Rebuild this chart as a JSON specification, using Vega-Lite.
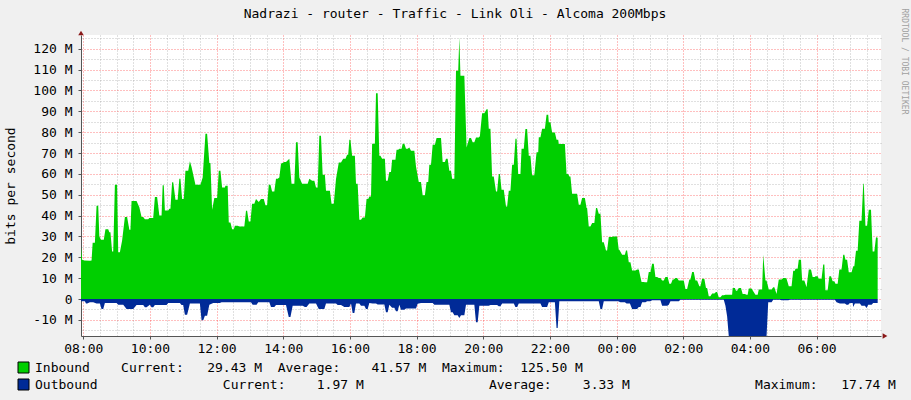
{
"$schema": "https://vega.github.io/schema/vega-lite/v6.json",
"width": 800, "height": 301,
"autosize": {"type": "none"},
"padding": {"left": 81, "top": 35, "right": 30, "bottom": 64},
"background": "#F0F0F0",
"config": {"view": {"fill": "#FFFFFF", "stroke": null}, "font": "DejaVu Sans Mono"},
"title": {"text": "Nadrazi - router - Traffic - Link Oli - Alcoma 200Mbps", "font": "DejaVu Sans Mono", "fontSize": 13, "fontWeight": "normal", "color": "#000000", "anchor": "middle", "frame": "group", "dx": -26, "offset": 14, "dy": 27},
"datasets": {
"inb": [{"m":-4,"v":25},{"m":-2,"v":18.8},{"m":2,"v":18.5},{"m":12,"v":18.3},{"m":15,"v":18.5},{"m":17,"v":27},{"m":21,"v":27},{"m":24,"v":44.7},{"m":27,"v":44.7},{"m":29,"v":30},{"m":32,"v":28.4},{"m":37,"v":28.4},{"m":40,"v":33.5},{"m":45,"v":33.5},{"m":47,"v":32},{"m":49,"v":32},{"m":52,"v":22.8},{"m":54,"v":22.8},{"m":57,"v":54.8},{"m":61,"v":54.8},{"m":63,"v":22.4},{"m":66,"v":22.4},{"m":70,"v":28},{"m":75,"v":39.3},{"m":79,"v":39.3},{"m":83,"v":33.2},{"m":85,"v":33.2},{"m":87,"v":47},{"m":96,"v":47},{"m":101,"v":44},{"m":105,"v":39.3},{"m":108,"v":39.3},{"m":111,"v":38.3},{"m":117,"v":38.3},{"m":119,"v":38.8},{"m":126,"v":38.8},{"m":129,"v":48.9},{"m":133,"v":48.9},{"m":137,"v":40},{"m":141,"v":40},{"m":143,"v":54.6},{"m":145,"v":54.6},{"m":147,"v":42.5},{"m":153,"v":42.5},{"m":155,"v":43.3},{"m":157,"v":43.3},{"m":160,"v":56},{"m":162,"v":56},{"m":166,"v":47.6},{"m":170,"v":47.6},{"m":173,"v":57.7},{"m":175,"v":57.7},{"m":178,"v":48},{"m":181,"v":48},{"m":184,"v":61.5},{"m":189,"v":61.5},{"m":192,"v":66},{"m":195,"v":63.3},{"m":202,"v":54.8},{"m":211,"v":54.8},{"m":215,"v":58.3},{"m":220,"v":79.2},{"m":223,"v":79.2},{"m":227,"v":65.2},{"m":229,"v":65.2},{"m":232,"v":42.8},{"m":236,"v":48.4},{"m":241,"v":48.4},{"m":244,"v":61.5},{"m":247,"v":61.5},{"m":250,"v":53.5},{"m":255,"v":53.5},{"m":256,"v":54.3},{"m":260,"v":54.3},{"m":262,"v":36.7},{"m":265,"v":36.7},{"m":268,"v":33.5},{"m":271,"v":33.5},{"m":273,"v":35.1},{"m":278,"v":35.1},{"m":281,"v":34.8},{"m":290,"v":34.8},{"m":293,"v":42.3},{"m":295,"v":42.3},{"m":298,"v":37.2},{"m":301,"v":37.2},{"m":304,"v":45.7},{"m":308,"v":45.7},{"m":311,"v":48},{"m":316,"v":46.5},{"m":320,"v":48},{"m":325,"v":48},{"m":328,"v":44.9},{"m":331,"v":44.9},{"m":334,"v":54.8},{"m":337,"v":54.8},{"m":340,"v":51.6},{"m":344,"v":51.6},{"m":347,"v":57.7},{"m":350,"v":57.7},{"m":353,"v":58.3},{"m":356,"v":64.9},{"m":362,"v":65.7},{"m":365,"v":65.7},{"m":371,"v":67.3},{"m":375,"v":55.3},{"m":380,"v":55.3},{"m":383,"v":75.2},{"m":386,"v":75.2},{"m":389,"v":58.3},{"m":394,"v":55.3},{"m":404,"v":55.3},{"m":407,"v":57.7},{"m":412,"v":56.7},{"m":416,"v":56.7},{"m":419,"v":53.5},{"m":422,"v":53.5},{"m":425,"v":78.3},{"m":428,"v":78.3},{"m":431,"v":59.6},{"m":435,"v":59.6},{"m":437,"v":51.9},{"m":444,"v":51.9},{"m":447,"v":45.7},{"m":451,"v":45.7},{"m":455,"v":57.5},{"m":460,"v":65.5},{"m":464,"v":65.5},{"m":468,"v":67.3},{"m":472,"v":67.3},{"m":475,"v":69.2},{"m":477,"v":69.2},{"m":479,"v":76.4},{"m":481,"v":76.4},{"m":484,"v":68.7},{"m":489,"v":68.7},{"m":491,"v":55.3},{"m":494,"v":55.3},{"m":497,"v":38},{"m":500,"v":38},{"m":503,"v":39.1},{"m":507,"v":39.1},{"m":510,"v":48},{"m":513,"v":48},{"m":515,"v":49.2},{"m":518,"v":49.2},{"m":520,"v":74.4},{"m":525,"v":74.4},{"m":527,"v":98.7},{"m":530,"v":98.7},{"m":533,"v":68.7},{"m":535,"v":68.7},{"m":538,"v":67.3},{"m":543,"v":67.3},{"m":545,"v":56.7},{"m":548,"v":56.7},{"m":551,"v":60.9},{"m":554,"v":60.9},{"m":556,"v":66.8},{"m":562,"v":66.8},{"m":564,"v":71.6},{"m":567,"v":71.6},{"m":569,"v":72},{"m":573,"v":72},{"m":575,"v":74.4},{"m":578,"v":74.4},{"m":581,"v":72},{"m":584,"v":72},{"m":587,"v":72.7},{"m":590,"v":71.1},{"m":596,"v":71.1},{"m":599,"v":63.6},{"m":604,"v":56.1},{"m":608,"v":56.1},{"m":611,"v":49.7},{"m":615,"v":49.7},{"m":618,"v":56.1},{"m":621,"v":56.1},{"m":623,"v":64.4},{"m":626,"v":64.4},{"m":629,"v":74},{"m":633,"v":74},{"m":636,"v":77.2},{"m":644,"v":77.2},{"m":647,"v":65.7},{"m":651,"v":65.7},{"m":653,"v":67.3},{"m":656,"v":67.3},{"m":659,"v":61.5},{"m":662,"v":61.5},{"m":664,"v":57.7},{"m":668,"v":57.7},{"m":671,"v":109.4},{"m":675,"v":109.4},{"m":677,"v":125.5},{"m":679,"v":107},{"m":686,"v":107},{"m":690,"v":72.7},{"m":695,"v":77.2},{"m":698,"v":77.2},{"m":701,"v":75.2},{"m":704,"v":75.2},{"m":707,"v":77.5},{"m":712,"v":77.5},{"m":714,"v":78},{"m":718,"v":89.1},{"m":722,"v":89.1},{"m":726,"v":91},{"m":728,"v":91},{"m":730,"v":81.6},{"m":733,"v":81.6},{"m":736,"v":58.8},{"m":739,"v":58.8},{"m":743,"v":51.6},{"m":745,"v":51.6},{"m":748,"v":60},{"m":750,"v":60},{"m":753,"v":52.4},{"m":757,"v":52.4},{"m":761,"v":44.4},{"m":763,"v":44.4},{"m":766,"v":51.9},{"m":769,"v":51.9},{"m":772,"v":64.4},{"m":775,"v":64.4},{"m":778,"v":76.8},{"m":780,"v":76.8},{"m":783,"v":60},{"m":787,"v":60},{"m":789,"v":72},{"m":793,"v":72},{"m":796,"v":81.5},{"m":799,"v":81.5},{"m":802,"v":68.7},{"m":805,"v":68.7},{"m":808,"v":59.3},{"m":812,"v":59.3},{"m":816,"v":70.4},{"m":819,"v":70.4},{"m":820,"v":77.6},{"m":823,"v":77.6},{"m":826,"v":81.6},{"m":831,"v":81.6},{"m":834,"v":88.3},{"m":837,"v":88.3},{"m":838,"v":84.8},{"m":841,"v":84.8},{"m":844,"v":79.9},{"m":849,"v":79.9},{"m":852,"v":76.4},{"m":855,"v":76.4},{"m":856,"v":74.3},{"m":867,"v":74.3},{"m":870,"v":60},{"m":873,"v":60},{"m":875,"v":58.8},{"m":877,"v":58.8},{"m":880,"v":50.5},{"m":889,"v":50.5},{"m":892,"v":45.2},{"m":895,"v":45.2},{"m":898,"v":48.4},{"m":903,"v":48.4},{"m":906,"v":43.6},{"m":907,"v":43.6},{"m":910,"v":34.8},{"m":913,"v":34.8},{"m":916,"v":36.4},{"m":920,"v":36.4},{"m":923,"v":43.6},{"m":925,"v":43.6},{"m":928,"v":40.9},{"m":931,"v":40.9},{"m":934,"v":27.2},{"m":937,"v":27.2},{"m":941,"v":23.3},{"m":943,"v":23.3},{"m":946,"v":29.7},{"m":951,"v":29.7},{"m":954,"v":30},{"m":961,"v":30},{"m":964,"v":23.6},{"m":965,"v":23.6},{"m":970,"v":21.2},{"m":975,"v":21.2},{"m":977,"v":23.3},{"m":979,"v":23.3},{"m":982,"v":17.6},{"m":985,"v":17.6},{"m":988,"v":13.7},{"m":994,"v":13.7},{"m":997,"v":14.1},{"m":1000,"v":14.1},{"m":1005,"v":8.1},{"m":1009,"v":8.1},{"m":1011,"v":8},{"m":1015,"v":8},{"m":1018,"v":12.9},{"m":1021,"v":12.9},{"m":1024,"v":16.9},{"m":1027,"v":16.9},{"m":1030,"v":10.5},{"m":1033,"v":10.5},{"m":1036,"v":10.1},{"m":1039,"v":10.1},{"m":1042,"v":8.9},{"m":1045,"v":8.9},{"m":1048,"v":10.5},{"m":1052,"v":10.5},{"m":1055,"v":7.3},{"m":1058,"v":7.3},{"m":1061,"v":9.3},{"m":1063,"v":9.3},{"m":1066,"v":10.1},{"m":1069,"v":10.1},{"m":1072,"v":8.9},{"m":1081,"v":8.9},{"m":1084,"v":4.8},{"m":1087,"v":4.8},{"m":1091,"v":9.3},{"m":1093,"v":9.3},{"m":1096,"v":12.9},{"m":1099,"v":12.9},{"m":1102,"v":8.9},{"m":1105,"v":8.9},{"m":1109,"v":6.1},{"m":1111,"v":6.1},{"m":1114,"v":9.7},{"m":1118,"v":9.7},{"m":1121,"v":5.3},{"m":1123,"v":5.3},{"m":1126,"v":1.3},{"m":1129,"v":1.3},{"m":1132,"v":2.6},{"m":1136,"v":2.6},{"m":1139,"v":3.4},{"m":1141,"v":3.4},{"m":1144,"v":0.8},{"m":1147,"v":0.8},{"m":1150,"v":1.8},{"m":1153,"v":1.8},{"m":1156,"v":2.1},{"m":1168,"v":2.1},{"m":1169,"v":5.3},{"m":1173,"v":5.3},{"m":1175,"v":4},{"m":1177,"v":4},{"m":1180,"v":5.3},{"m":1184,"v":5.3},{"m":1187,"v":2.4},{"m":1191,"v":2.4},{"m":1194,"v":2.1},{"m":1196,"v":2.1},{"m":1198,"v":5},{"m":1203,"v":5},{"m":1206,"v":3.7},{"m":1210,"v":2.1},{"m":1214,"v":2.1},{"m":1216,"v":4.5},{"m":1222,"v":4.5},{"m":1224,"v":21.2},{"m":1228,"v":8.9},{"m":1230,"v":8.9},{"m":1234,"v":4.5},{"m":1239,"v":4.5},{"m":1242,"v":5.6},{"m":1244,"v":5.6},{"m":1248,"v":2.4},{"m":1252,"v":9.3},{"m":1257,"v":9.3},{"m":1260,"v":10.1},{"m":1264,"v":10.1},{"m":1266,"v":9.7},{"m":1270,"v":6.1},{"m":1275,"v":6.1},{"m":1278,"v":13.6},{"m":1281,"v":13.6},{"m":1282,"v":14.5},{"m":1286,"v":14.5},{"m":1288,"v":18.8},{"m":1292,"v":18.8},{"m":1294,"v":8.9},{"m":1298,"v":8.9},{"m":1302,"v":5.6},{"m":1306,"v":14.1},{"m":1310,"v":14.1},{"m":1313,"v":10.5},{"m":1317,"v":10.5},{"m":1318,"v":10.9},{"m":1322,"v":10.9},{"m":1324,"v":9.7},{"m":1329,"v":9.7},{"m":1332,"v":16.5},{"m":1334,"v":16.5},{"m":1336,"v":4.2},{"m":1340,"v":4.2},{"m":1343,"v":10.9},{"m":1346,"v":10.9},{"m":1349,"v":8.5},{"m":1352,"v":8.5},{"m":1354,"v":7.3},{"m":1358,"v":7.3},{"m":1361,"v":14.1},{"m":1365,"v":14.1},{"m":1368,"v":21.2},{"m":1370,"v":21.2},{"m":1372,"v":18.8},{"m":1375,"v":18.8},{"m":1378,"v":12.8},{"m":1383,"v":12.8},{"m":1386,"v":15.7},{"m":1388,"v":15.7},{"m":1391,"v":23.2},{"m":1394,"v":23.2},{"m":1397,"v":37.5},{"m":1401,"v":37.5},{"m":1404,"v":55.3},{"m":1405,"v":55.3},{"m":1408,"v":35.1},{"m":1411,"v":35.1},{"m":1414,"v":42.8},{"m":1418,"v":42.8},{"m":1421,"v":22.8},{"m":1424,"v":22.8},{"m":1427,"v":29.6},{"m":1430,"v":29.43}],
"outb": [{"m":-4,"v":-1.1},{"m":3,"v":-1.1},{"m":5,"v":-2.2},{"m":7,"v":-2.2},{"m":12,"v":-1.6},{"m":18,"v":-1.6},{"m":24,"v":-2.2},{"m":30,"v":-2.2},{"m":33,"v":-4.8},{"m":36,"v":-4.8},{"m":39,"v":-1.9},{"m":60,"v":-1.9},{"m":63,"v":-2.7},{"m":72,"v":-2.7},{"m":78,"v":-4.8},{"m":90,"v":-4.8},{"m":96,"v":-2.9},{"m":108,"v":-2.9},{"m":111,"v":-4},{"m":114,"v":-4},{"m":120,"v":-2.7},{"m":123,"v":-4},{"m":126,"v":-4},{"m":129,"v":-2.9},{"m":150,"v":-2.9},{"m":153,"v":-1.9},{"m":174,"v":-1.9},{"m":177,"v":-2.9},{"m":180,"v":-2.9},{"m":183,"v":-7.5},{"m":187,"v":-7.5},{"m":192,"v":-2.2},{"m":210,"v":-2.2},{"m":213,"v":-10.2},{"m":216,"v":-10.2},{"m":219,"v":-8},{"m":223,"v":-8},{"m":227,"v":-2.7},{"m":234,"v":-1.9},{"m":246,"v":-1.9},{"m":249,"v":-1.6},{"m":302,"v":-1.6},{"m":305,"v":-2.7},{"m":312,"v":-2.7},{"m":315,"v":-1.6},{"m":335,"v":-1.6},{"m":338,"v":-3.8},{"m":344,"v":-3.8},{"m":347,"v":-2.9},{"m":365,"v":-2.9},{"m":370,"v":-8.6},{"m":373,"v":-8.6},{"m":377,"v":-3.2},{"m":395,"v":-3.2},{"m":399,"v":-3.8},{"m":402,"v":-3.8},{"m":407,"v":-2.2},{"m":419,"v":-2.2},{"m":424,"v":-4.8},{"m":434,"v":-4.8},{"m":437,"v":-2.2},{"m":455,"v":-2.2},{"m":458,"v":-2.9},{"m":464,"v":-2.9},{"m":470,"v":-3.8},{"m":479,"v":-3.8},{"m":482,"v":-2.2},{"m":485,"v":-6.7},{"m":488,"v":-6.7},{"m":491,"v":-2.2},{"m":497,"v":-2.2},{"m":500,"v":-3.2},{"m":506,"v":-3.2},{"m":509,"v":-4.8},{"m":512,"v":-4.8},{"m":515,"v":-1.9},{"m":521,"v":-2.2},{"m":527,"v":-2.2},{"m":530,"v":-2.6},{"m":542,"v":-2.6},{"m":545,"v":-6.4},{"m":548,"v":-6.4},{"m":551,"v":-2.7},{"m":556,"v":-4.2},{"m":560,"v":-4.2},{"m":563,"v":-5.9},{"m":566,"v":-5.9},{"m":569,"v":-2.7},{"m":572,"v":-5.1},{"m":578,"v":-5.1},{"m":581,"v":-4.6},{"m":599,"v":-4.6},{"m":602,"v":-2.3},{"m":608,"v":-1.9},{"m":629,"v":-1.9},{"m":632,"v":-2.7},{"m":659,"v":-2.7},{"m":662,"v":-6.4},{"m":665,"v":-6.4},{"m":668,"v":-7.8},{"m":674,"v":-7.8},{"m":677,"v":-9.1},{"m":680,"v":-7.8},{"m":686,"v":-7.8},{"m":689,"v":-2.7},{"m":704,"v":-2.7},{"m":707,"v":-11.2},{"m":710,"v":-11.2},{"m":713,"v":-3.2},{"m":730,"v":-3.2},{"m":733,"v":-2.9},{"m":745,"v":-2.9},{"m":748,"v":-3.5},{"m":751,"v":-3.5},{"m":754,"v":-2.2},{"m":775,"v":-2.2},{"m":778,"v":-3.8},{"m":781,"v":-3.8},{"m":784,"v":-2.2},{"m":823,"v":-2.2},{"m":826,"v":-3.8},{"m":835,"v":-3.8},{"m":838,"v":-1.6},{"m":849,"v":-1.6},{"m":852,"v":-13.9},{"m":854,"v":-13.9},{"m":857,"v":-1.1},{"m":928,"v":-1.1},{"m":931,"v":-4.8},{"m":934,"v":-4.8},{"m":937,"v":-1.1},{"m":963,"v":-1.1},{"m":967,"v":-1.6},{"m":975,"v":-1.6},{"m":978,"v":-2.2},{"m":984,"v":-2.2},{"m":988,"v":-4.8},{"m":997,"v":-4.8},{"m":1000,"v":-3.8},{"m":1003,"v":-3.8},{"m":1006,"v":-1.6},{"m":1012,"v":-1.6},{"m":1015,"v":-1.1},{"m":1021,"v":-1.1},{"m":1024,"v":-0.6},{"m":1039,"v":-0.6},{"m":1042,"v":-3.2},{"m":1051,"v":-3.2},{"m":1054,"v":-2.7},{"m":1057,"v":-1.1},{"m":1072,"v":-1.1},{"m":1075,"v":-0.3},{"m":1153,"v":-0.3},{"m":1156,"v":-3.2},{"m":1159,"v":-8.3},{"m":1162,"v":-17.74},{"m":1230,"v":-17.74},{"m":1233,"v":-1.6},{"m":1239,"v":-1.6},{"m":1242,"v":-0.3},{"m":1254,"v":-0.3},{"m":1257,"v":-0.6},{"m":1269,"v":-0.6},{"m":1272,"v":-0.3},{"m":1353,"v":-0.3},{"m":1356,"v":-1.6},{"m":1362,"v":-2.2},{"m":1371,"v":-2.2},{"m":1374,"v":-2.7},{"m":1377,"v":-2.7},{"m":1380,"v":-1.9},{"m":1385,"v":-1.9},{"m":1386,"v":-3.8},{"m":1389,"v":-2.2},{"m":1398,"v":-2.2},{"m":1401,"v":-3.2},{"m":1407,"v":-3.2},{"m":1410,"v":-4.3},{"m":1413,"v":-2.7},{"m":1419,"v":-2.7},{"m":1422,"v":-1.9},{"m":1430,"v":-1.97}]
},
"resolve": {"axis": {"x": "independent", "y": "independent"}},
"layer": [
{"data": {"name": "inb"},
 "mark": {"type": "area", "interpolate": "linear", "opacity": 1},
 "encoding": {
  "x": {"field": "m", "type": "quantitative", "scale": {"domain": [-4, 1436], "nice": false, "zero": false},
    "axis": {"orient": "bottom", "title": null, "values": [0,120,240,360,480,600,720,840,960,1080,1200,1320],
      "labelExpr": "(floor((8 + datum.value/60) % 24) < 10 ? '0' : '') + floor((8 + datum.value/60) % 24) + ':00'",
      "grid": true, "gridColor": "#FF0000", "gridOpacity": 0.5, "gridDash": [1, 2], "gridWidth": 1,
      "domainColor": "#555555", "tickColor": "#555555", "tickSize": 3, "labelPadding": 3,
      "labelFont": "DejaVu Sans Mono", "labelFontSize": 13, "labelColor": "#000000", "labelFlush": false, "labelOverlap": false}},
  "y": {"field": "v", "type": "quantitative", "scale": {"domain": [-17.74, 126.6], "nice": false, "zero": false},
    "axis": {"orient": "left", "title": "bits per second", "values": [-10,0,10,20,30,40,50,60,70,80,90,100,110,120],
      "labelExpr": "datum.value == 0 ? '0' : datum.value + ' M'",
      "grid": true, "gridColor": "#FF0000", "gridOpacity": 0.5, "gridDash": [1, 2], "gridWidth": 1,
      "domainColor": "#555555", "tickColor": "#555555", "tickSize": 3, "labelPadding": 6,
      "labelFont": "DejaVu Sans Mono", "labelFontSize": 13, "labelColor": "#000000", "labelFlush": false, "labelOverlap": false,
      "titleFont": "DejaVu Sans Mono", "titleFontSize": 13, "titleFontWeight": "normal", "titleColor": "#000000", "titlePadding": 15}},
  "color": {"datum": "Inbound", "type": "nominal",
    "scale": {"domain": ["Inbound", "Outbound"], "range": ["#00CF00", "#002A97"]},
    "legend": {"orient": "none", "legendX": -64, "legendY": 326, "direction": "vertical", "title": null, "padding": 0,
      "symbolType": "square", "symbolSize": 121, "symbolStrokeColor": "#000000", "symbolStrokeWidth": 1, "symbolOpacity": 1,
      "labelFont": "DejaVu Sans Mono", "labelFontSize": 13, "labelColor": "#000000", "labelLimit": 0, "labelOffset": 5, "rowPadding": 2,
      "labelExpr": "datum.label == 'Inbound' ? pad('Inbound',11,'\u00a0') + pad('Current:',11,'\u00a0') + pad('29.43\u00a0M',9,'\u00a0') + pad('Average:',12,'\u00a0') + pad('41.57\u00a0M',9,'\u00a0') + pad('Maximum:',10,'\u00a0') + '125.50\u00a0M' : pad('Outbound',24,'\u00a0') + pad('Current:',12,'\u00a0') + pad('1.97\u00a0M',22,'\u00a0') + pad('Average:',12,'\u00a0') + pad('3.33\u00a0M',22,'\u00a0') + pad('Maximum:',11,'\u00a0') + '17.74\u00a0M'"}}
 }},
{"data": {"name": "outb"},
 "mark": {"type": "area", "interpolate": "linear", "opacity": 1},
 "encoding": {
  "x": {"field": "m", "type": "quantitative",
    "axis": {"orient": "top", "title": null, "labels": false, "ticks": false, "domain": false,
      "values": [30,60,90,150,180,210,270,300,330,390,420,450,510,540,570,630,660,690,750,780,810,870,900,930,990,1020,1050,1110,1140,1170,1230,1260,1290,1350,1380,1410],
      "grid": true, "gridColor": "#8F8F8F", "gridOpacity": 0.55, "gridDash": [1, 2], "gridWidth": 1}},
  "y": {"field": "v", "type": "quantitative",
    "axis": {"orient": "right", "labels": false, "ticks": false, "domain": false,
      "values": [-15,-5,5,15,25,35,45,55,65,75,85,95,105,115,125],
      "grid": true, "gridColor": "#8F8F8F", "gridOpacity": 0.55, "gridDash": [1, 2], "gridWidth": 1,
      "title": "RRDTOOL / TOBI OETIKER", "titleFont": "DejaVu Sans Mono", "titleFontSize": 8, "titleFontWeight": "normal", "titleColor": "#A0A0A0",
      "titleAngle": 90, "titleX": 22, "titleY": -27, "titleAlign": "left", "titleBaseline": "middle"}},
  "color": {"datum": "Outbound", "type": "nominal"}
 }},
{"data": {"values": [{}]},
 "mark": {"type": "point", "shape": "triangle-up", "filled": true, "color": "#8A1818", "size": 30, "opacity": 1, "yOffset": -2},
 "encoding": {"x": {"datum": -4, "type": "quantitative", "axis": null}, "y": {"datum": 126.6, "type": "quantitative", "axis": null}}},
{"data": {"values": [{}]},
 "mark": {"type": "point", "shape": "triangle-right", "filled": true, "color": "#8A1818", "size": 30, "opacity": 1, "xOffset": 4},
 "encoding": {"x": {"datum": 1436, "type": "quantitative", "axis": null}, "y": {"datum": -17.74, "type": "quantitative", "axis": null}}}
]
}
